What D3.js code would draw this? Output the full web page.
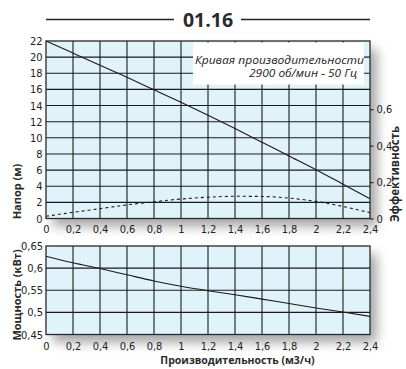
<!DOCTYPE html>
<html>
<head>
<meta charset="utf-8">
<script src="https://cdn.jsdelivr.net/npm/d3@7"></script>
<style>
  html, body { margin: 0; padding: 0; background: #fff; }
  svg { display: block; }
  .tick-label { font-family: "Liberation Sans Narrow", "DejaVu Sans Condensed", sans-serif; font-size: 11px; fill: #222; }
  .axis-title { font-family: "Open Sans", sans-serif; font-weight: 700; fill: #2a2a2a; }
</style>
</head>
<body>
<svg id="chart" width="406" height="369"></svg>
<script>
// Pump model 01.16 performance data
const flow = [0, 0.2, 0.4, 0.6, 0.8, 1.0, 1.2, 1.4, 1.6, 1.8, 2.0, 2.2, 2.4];          // м3/ч
const head = [22.0, 20.5, 19.0, 17.5, 15.95, 14.4, 12.8, 11.15, 9.45, 7.75, 6.05, 4.25, 2.45]; // м
const efficiency = [0.012, 0.034, 0.054, 0.075, 0.092, 0.107, 0.117, 0.122, 0.121, 0.112, 0.094, 0.066, 0.032];
const power = [0.627, 0.612, 0.599, 0.585, 0.571, 0.559, 0.549, 0.540, 0.530, 0.520, 0.510, 0.501, 0.491]; // кВт

const flowTicks = [0, 0.2, 0.4, 0.6, 0.8, 1, 1.2, 1.4, 1.6, 1.8, 2, 2.2, 2.4];
const headTicks = [0, 2, 4, 6, 8, 10, 12, 14, 16, 18, 20, 22];
const effTicks = [0, 0.2, 0.4, 0.6];
const powerTicks = [0.45, 0.5, 0.55, 0.6, 0.65];

const title = "01.16";
const legendLines = ["Кривая производительности", "2900 об/мин - 50 Гц"];

const fmt = v => String(v).replace(".", ",");

const svg = d3.select("#chart");
const defs = svg.append("defs");
const f = defs.append("filter").attr("id", "shadow")
  .attr("x", "-20%").attr("y", "-20%").attr("width", "150%").attr("height", "150%");
f.append("feGaussianBlur").attr("stdDeviation", 6);

// Scales
const x = d3.scaleLinear().domain([0, 2.4]).range([46, 370]);
const yHead = d3.scaleLinear().domain([0, 22]).range([218.5, 41]);
const yEff = d3.scaleLinear().domain([0, 0.975]).range([218.5, 41]);
const yPow = d3.scaleLinear().domain([0.45, 0.65]).range([334.5, 246]);

const gridColor = "#1a1a1a";
const bg = "#e1f3fa";

// Title with rules
svg.append("line").attr("x1", 46).attr("x2", 174).attr("y1", 19.5).attr("y2", 19.5)
  .attr("stroke", "#222").attr("stroke-width", 1.3);
svg.append("line").attr("x1", 241).attr("x2", 370).attr("y1", 19.5).attr("y2", 19.5)
  .attr("stroke", "#222").attr("stroke-width", 1.3);
svg.append("text").attr("x", 208).attr("y", 26.7).attr("text-anchor", "middle")
  .attr("font-family", "Open Sans, sans-serif").attr("font-weight", 700)
  .attr("font-size", 19.5).attr("fill", "#2b2b2b").text(title);

function panel(yScale, hTicks) {
  const [y0, y1] = yScale.range();
  const g = svg.append("g");
  // drop shadow
  g.append("rect").attr("x", x(0) + 7).attr("y", y1 + 8)
    .attr("width", x(2.4) - x(0)).attr("height", y0 - y1)
    .attr("fill", "#000").attr("opacity", 0.35).attr("filter", "url(#shadow)");
  g.append("rect").attr("x", x(0)).attr("y", y1)
    .attr("width", x(2.4) - x(0)).attr("height", y0 - y1).attr("fill", bg);
  const grid = g.append("g").attr("stroke", gridColor).attr("stroke-width", 1.1);
  grid.selectAll("line.v").data(flowTicks.slice(1, -1)).join("line")
    .attr("x1", d => x(d)).attr("x2", d => x(d)).attr("y1", y1).attr("y2", y0);
  grid.selectAll("line.h").data(hTicks).join("line")
    .attr("x1", x(0)).attr("x2", x(2.4)).attr("y1", d => yScale(d)).attr("y2", d => yScale(d));
  return g;
}

const headPanel = panel(yHead, headTicks.slice(1, -1));
const powerPanel = panel(yPow, powerTicks.slice(1, -1));

// Legend box covering the grid
headPanel.append("rect").attr("x", 193).attr("y", 42.5).attr("width", 171).attr("height", 42)
  .attr("fill", "#fff");
headPanel.append("text").attr("x", 364).attr("y", 63.5).attr("text-anchor", "end")
  .attr("font-family", "Open Sans, sans-serif").attr("font-style", "italic").attr("font-size", 11.5)
  .attr("fill", "#222").attr("textLength", 169).attr("lengthAdjust", "spacingAndGlyphs")
  .text(legendLines[0]);
headPanel.append("text").attr("x", 357).attr("y", 77).attr("text-anchor", "end")
  .attr("font-family", "Open Sans, sans-serif").attr("font-style", "italic").attr("font-size", 11.5)
  .attr("fill", "#222").attr("textLength", 108).attr("lengthAdjust", "spacingAndGlyphs")
  .text(legendLines[1]);

// Curves
const headLine = d3.line().x((d, i) => x(flow[i])).y(d => yHead(d)).curve(d3.curveMonotoneX);
headPanel.append("path").datum(head).attr("d", headLine)
  .attr("fill", "none").attr("stroke", "#1a1a1a").attr("stroke-width", 1.1);

const effLine = d3.line().x((d, i) => x(flow[i])).y(d => yEff(d)).curve(d3.curveMonotoneX);
headPanel.append("path").datum(efficiency).attr("d", effLine)
  .attr("fill", "none").attr("stroke", "#1a1a1a").attr("stroke-width", 1.1)
  .attr("stroke-dasharray", "3,3");

const powLine = d3.line().x((d, i) => x(flow[i])).y(d => yPow(d)).curve(d3.curveMonotoneX);
powerPanel.append("path").datum(power).attr("d", powLine)
  .attr("fill", "none").attr("stroke", "#1a1a1a").attr("stroke-width", 1.1);

// Borders
[[headPanel, yHead], [powerPanel, yPow]].forEach(([g, s]) => {
  const [y0, y1] = s.range();
  g.append("rect").attr("x", x(0)).attr("y", y1)
    .attr("width", x(2.4) - x(0)).attr("height", y0 - y1)
    .attr("fill", "none").attr("stroke", "#2a2a2a").attr("stroke-width", 1.3);
});

// Axes
const xTop = d3.axisBottom(x).tickValues(flowTicks).tickFormat(fmt).tickSize(0).tickPadding(0);
const xBot = d3.axisBottom(x).tickValues(flowTicks).tickFormat(fmt).tickSize(0).tickPadding(0);
const yL = d3.axisLeft(yHead).tickValues(headTicks).tickFormat(fmt).tickSize(0).tickPadding(3.5);
const yP = d3.axisLeft(yPow).tickValues(powerTicks).tickFormat(fmt).tickSize(0).tickPadding(3);
const yR = d3.axisRight(yEff).tickValues(effTicks).tickFormat(fmt).tickSize(3.5).tickPadding(3);

function styleAxis(g) {
  g.select(".domain").remove();
  g.selectAll("text").attr("class", "tick-label").attr("fill", null);
  g.selectAll("line").attr("stroke", "#2a2a2a").attr("stroke-width", 1.2);
}
svg.append("g").attr("transform", "translate(0,225)").call(xTop).call(styleAxis);
svg.append("g").attr("transform", "translate(0,342)").call(xBot).call(styleAxis);
svg.append("g").attr("transform", "translate(46,0)").call(yL).call(styleAxis);
svg.append("g").attr("transform", "translate(46,0)").call(yP).call(styleAxis);
svg.append("g").attr("transform", "translate(370,0)").call(yR).call(styleAxis);

// Axis titles
svg.append("text").attr("class", "axis-title").attr("font-size", 11)
  .attr("transform", "translate(21,191.5) rotate(-90)").attr("text-anchor", "middle").text("Напор (м)");
svg.append("text").attr("class", "axis-title").attr("font-size", 11)
  .attr("transform", "translate(21,295) rotate(-90)").attr("text-anchor", "middle").text("Мощность (кВт)");
svg.append("text").attr("class", "axis-title").attr("font-size", 11.5)
  .attr("transform", "translate(399,174) rotate(-90)").attr("text-anchor", "middle").text("Эффективность");
svg.append("text").attr("class", "axis-title").attr("font-size", 10.5)
  .attr("x", 237.5).attr("y", 364).attr("text-anchor", "middle").text("Производительность (м3/ч)");
</script>
</body>
</html>
